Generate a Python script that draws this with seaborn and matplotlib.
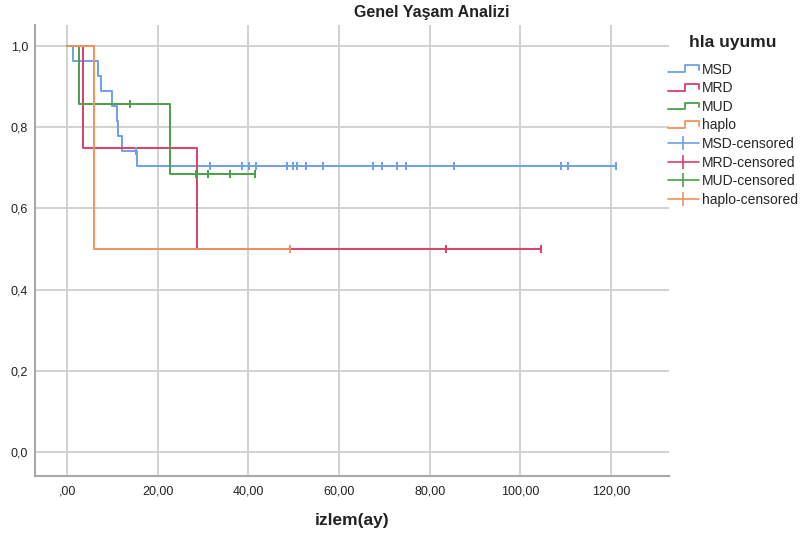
import numpy as np
import pandas as pd
import seaborn as sns
import matplotlib
matplotlib.use("Agg")
import matplotlib.pyplot as plt
from matplotlib.lines import Line2D
from matplotlib.legend_handler import HandlerBase

# Kaplan-Meier step points (time in months, survival) per HLA match group
groups = ["MSD", "MRD", "MUD", "haplo"]

msd_time = [0.0, 1.3, 6.8, 7.4, 9.8, 11.1, 11.3, 12.0, 15.3]
msd_surv = [1.0, 0.963, 0.926, 0.889, 0.852, 0.815, 0.778, 0.741, 0.704]
msd_cens = [15.1, 31.5, 38.5, 40.1, 41.6, 48.6, 49.9, 50.8, 52.6, 56.4,
            67.5, 69.5, 72.8, 74.8, 85.4, 108.9, 110.6, 121.0]

mrd_time = [0.0, 3.6, 28.6]
mrd_surv = [1.0, 0.75, 0.5]
mrd_cens = [83.6, 104.5]

mud_time = [0.0, 2.6, 22.6]
mud_surv = [1.0, 0.857, 0.686]
mud_cens = [13.9, 28.5, 31.1, 35.9, 41.5]

haplo_time = [0.0, 6.0]
haplo_surv = [1.0, 0.5]
haplo_cens = [49.2]

colors = {"MSD": "#6e9fea", "MRD": "#dd3f68", "MUD": "#4aa04a", "haplo": "#f2915c"}

x_ticks = [0, 20, 40, 60, 80, 100, 120]
x_labels = [",00", "20,00", "40,00", "60,00", "80,00", "100,00", "120,00"]
y_ticks = [0.0, 0.2, 0.4, 0.6, 0.8, 1.0]
y_labels = ["0,0", "0,2", "0,4", "0,6", "0,8", "1,0"]

series = {
    "MSD": (msd_time, msd_surv, msd_cens),
    "MRD": (mrd_time, mrd_surv, mrd_cens),
    "MUD": (mud_time, mud_surv, mud_cens),
    "haplo": (haplo_time, haplo_surv, haplo_cens),
}

sns.set_theme(style="white")
plt.rcParams["font.family"] = ["Liberation Sans", "DejaVu Sans"]

fig = plt.figure(figsize=(8.01, 5.39), dpi=100)
ax = fig.add_axes([0.0437, 0.1169, 0.791, 0.8367])

for g in groups:
    t, s, c = series[g]
    end_t = max(c[-1], t[-1])
    curve = pd.DataFrame({"time": list(t) + [end_t], "surv": list(s) + [s[-1]]})
    sns.lineplot(data=curve, x="time", y="surv", color=colors[g], lw=1.4,
                 drawstyle="steps-post", estimator=None, sort=False, ax=ax,
                 legend=False, zorder=3)
    idx = np.searchsorted(np.asarray(t), np.asarray(c), side="right") - 1
    marks = pd.DataFrame({"time": c, "surv": np.asarray(s)[idx]})
    sns.scatterplot(data=marks, x="time", y="surv", marker="|", s=38,
                    color=colors[g], linewidth=1.4, ax=ax, legend=False, zorder=4)

ax.set_xlim(-7.1, 132.7)
ax.set_ylim(-0.059, 1.052)
ax.set_xticks(x_ticks)
ax.set_xticklabels(x_labels)
ax.set_yticks(y_ticks)
ax.set_yticklabels(y_labels)
ax.tick_params(axis="both", labelsize=9, colors="#222222", length=0, pad=5)
ax.tick_params(axis="x", pad=7)
ax.grid(True, color="#d2d2d2", lw=1.4)
ax.set_axisbelow(True)
for side in ["top", "right"]:
    ax.spines[side].set_visible(False)
for side in ["left", "bottom"]:
    ax.spines[side].set_color("#a8a8a8")
    ax.spines[side].set_linewidth(1.5)
ax.set_ylabel("")
ax.set_xlabel("")

fig.text(0.439, 1 - 521 / 539, "izlem(ay)", ha="center", va="center",
         fontsize=12.5, fontweight="bold", color="#222222")
fig.text(0.539, 1 - 12 / 539, "Genel Yaşam Analizi", ha="center", va="center",
         fontsize=11.5, fontweight="bold", color="#222222")
fig.text(0.915, 1 - 42 / 539, "hla uyumu", ha="center", va="center",
         fontsize=12.5, fontweight="bold", color="#222222")


class StepHandler(HandlerBase):
    def create_artists(self, legend, orig_handle, xdescent, ydescent,
                       width, height, fontsize, trans):
        x0, x1 = -xdescent, -xdescent + width
        xm = x0 + 0.55 * width
        y0 = -ydescent + 0.15 * height
        y1 = -ydescent + 0.85 * height
        line = Line2D([x0, xm, xm, x1, x1], [y0, y0, y1, y1, y0 + 0.2 * height],
                      color=orig_handle.get_color(), lw=1.3, transform=trans)
        return [line]


handles, labels, hmap = [], [], {}
for g in groups:
    h = Line2D([], [], color=colors[g], lw=1.3)
    handles.append(h)
    labels.append(g)
    hmap[h] = StepHandler()
for g in groups:
    handles.append(Line2D([], [], color=colors[g], lw=1.2, marker="|",
                          markersize=10, markeredgewidth=1.2))
    labels.append(f"{g}-censored")

leg = fig.legend(handles, labels, handler_map=hmap, loc="upper left",
                 bbox_to_anchor=(0.822, 1 - 53 / 539), frameon=False, fontsize=10,
                 handlelength=2.2, handletextpad=0.25, labelspacing=0.33,
                 borderpad=0.2)

fig.savefig("out.png", dpi=100)
